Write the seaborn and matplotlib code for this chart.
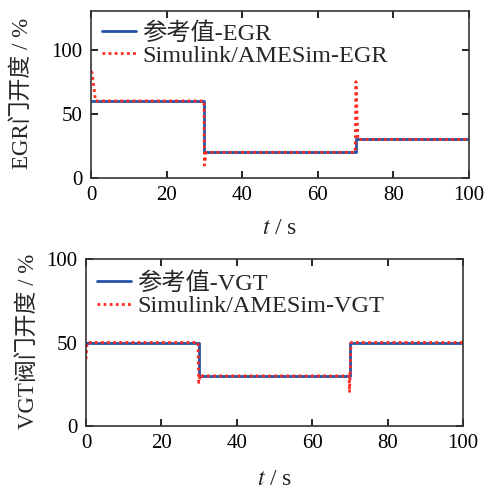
import matplotlib
matplotlib.use("Agg")
import matplotlib.pyplot as plt
import seaborn as sns
import pandas as pd

# ---- data ----
egr_ref_t = [0, 30, 30, 70, 70, 100]
egr_ref_v = [60, 60, 20, 20, 30, 30]
egr_sim_t = [0, 0.3, 1.2, 29.9, 30.0, 30.5, 69.9, 70.1, 70.6, 100]
egr_sim_v = [83, 82, 60, 60, 10, 20, 20, 75, 30, 30]

vgt_ref_t = [0, 30, 30, 70, 70, 100]
vgt_ref_v = [50, 50, 30, 30, 50, 50]
vgt_sim_t = [0, 0.3, 29.7, 29.9, 30.4, 30.8, 69.8, 69.9, 70.3, 100]
vgt_sim_v = [40, 50, 50, 26, 31, 30, 30, 20, 50, 50]

xticks = [0, 20, 40, 60, 80, 100]

sns.set_style("ticks")
plt.rcParams['font.family'] = ['Liberation Serif', 'Noto Sans CJK SC']
plt.rcParams['mathtext.fontset'] = 'stix'

fig = plt.figure(figsize=(4.91, 4.91), dpi=100)
W = H = 491
def rect(l, t, r, b):
    return [l / W, 1 - b / H, (r - l) / W, (b - t) / H]

ax1 = fig.add_axes(rect(91, 11, 469, 178))
ax2 = fig.add_axes(rect(86, 259, 463, 426))

blue = '#2553a8'
red = '#ff2a1f'
spine_c = '#3a3232'

def draw(ax, rt, rv, st, sv, lab_ref, lab_sim, ylim, yticks, ylabel,
         xl_y, yl_x, leg_y):
    dref = pd.DataFrame({'t': rt, 'v': rv})
    dsim = pd.DataFrame({'t': st, 'v': sv})
    sns.lineplot(data=dref, x='t', y='v', ax=ax, color=blue, lw=2.0,
                 label=lab_ref, sort=False, estimator=None)
    sns.lineplot(data=dsim, x='t', y='v', ax=ax, color=red, lw=2.0,
                 linestyle=(0, (1, 1.2)), label=lab_sim, sort=False, estimator=None)
    ax.set_xlim(0, 100)
    ax.set_ylim(*ylim)
    ax.set_xticks(xticks)
    ax.set_yticks(yticks)
    ax.tick_params(direction='in', top=True, right=True, length=5, width=1.2,
                   labelsize=15, colors='black', pad=6)
    for s in ax.spines.values():
        s.set_color(spine_c)
        s.set_linewidth(1.2)
    ax.set_xlabel('$t$ / s', fontsize=17)
    ax.xaxis.label.set_va('center')
    ax.xaxis.set_label_coords(0.5, xl_y)
    ax.set_ylabel(ylabel, fontsize=16.5)
    ax.yaxis.label.set_va('center')
    ax.yaxis.set_label_coords(yl_x, 0.505)
    ax.legend(loc='upper left', bbox_to_anchor=(0.0, leg_y), frameon=False,
              fontsize=17.5, handlelength=1.4, handletextpad=0.25,
              borderaxespad=0.0, labelspacing=0.02, borderpad=0.45)

draw(ax1, egr_ref_t, egr_ref_v, egr_sim_t, egr_sim_v,
     '参考值-EGR', 'Simulink/AMESim-EGR', (0, 130), [0, 50, 100], 'EGR门开度 / %',
     -0.305, -0.183, 1.0)
draw(ax2, vgt_ref_t, vgt_ref_v, vgt_sim_t, vgt_sim_v,
     '参考值-VGT', 'Simulink/AMESim-VGT', (0, 100), [0, 50, 100], 'VGT阀门开度 / %',
     -0.323, -0.154, 0.985)

fig.savefig('out.png', dpi=100)
